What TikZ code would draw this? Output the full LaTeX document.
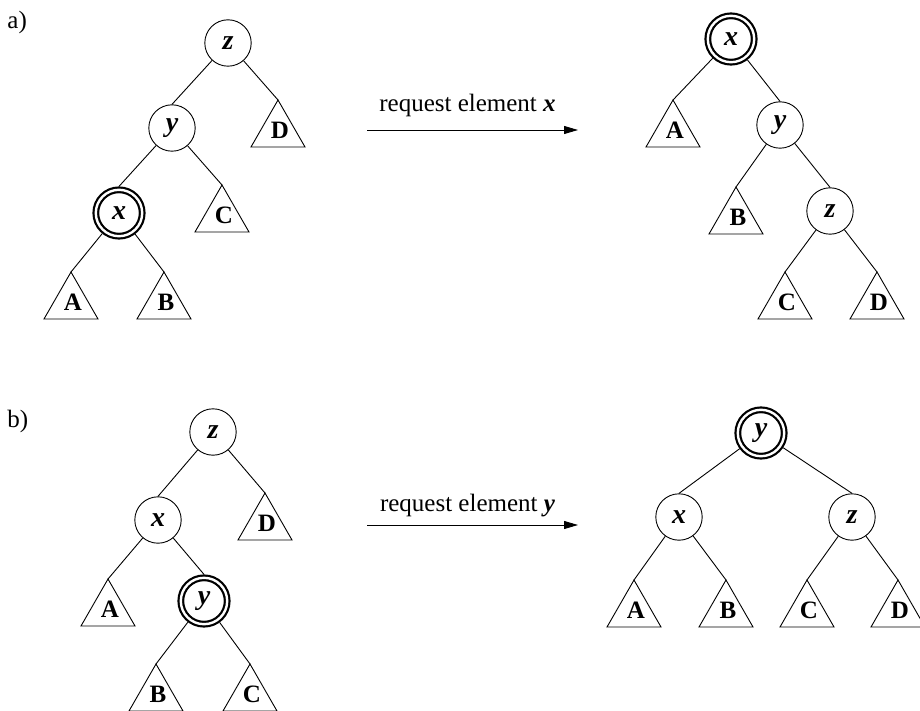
\documentclass[tikz,border=0pt]{standalone}
\usepackage{fontspec}
\setmainfont{Liberation Serif}
\usetikzlibrary{arrows.meta}
\newcommand\mysub[3]{%
  \coordinate (#1) at (#2);
  \draw[tri] (#1) -- ++(-27,47) -- ++(54,0) -- cycle;
  \node[tlab] (#1-lab) at ([shift={(2,30)}]#1) {#3};
}
\begin{document}
\begin{tikzpicture}[x=1pt,y=-1pt,line width=0.9pt,
  vtx/.style={circle, draw, fill=white, minimum size=46.4pt, inner sep=0pt, line width=0.9pt,
    font=\fontsize{28}{28}\selectfont\bfseries\itshape},
  sel/.style={vtx, double=white, double distance=2.4pt, line width=2.2pt, outer sep=3.4pt},
  tri/.style={line width=0.9pt, line join=miter},
  tlab/.style={font=\fontsize{25}{25}\selectfont\bfseries, inner sep=0pt},
  edge/.style={line width=0.9pt},
  arr/.style={-{Triangle[length=14pt,width=8pt]}, line width=0.9pt},
  lab/.style={font=\fontsize{25}{25}\selectfont, inner sep=0pt},
]
\useasboundingbox (0,0) rectangle (920,711);

% ---------- a) ----------
\node[lab, anchor=base west] (pa) at (7,29) {a)};
% left tree
\node[vtx] (az) at (228,43) {z};
\node[vtx] (ay) at (172,128) {y};
\node[sel] (ax) at (119,213) {x};
\mysub{aD}{278,100}{D}
\mysub{aC}{222,185}{C}
\mysub{aA}{71,272}{A}
\mysub{aB}{164,272}{B}
\draw[edge] (az) -- (ay.north);
\draw[edge] (az) -- (aD);
\draw[edge] (ay) -- (ax.north);
\draw[edge] (ay) -- (aC);
\draw[edge] (ax) -- (aA);
\draw[edge] (ax) -- (aB);
% arrow
\coordinate (aa1) at (367,130);
\coordinate (aa2) at (578,130);
\draw[arr] (aa1) -- (aa2);
\node[lab, anchor=base] (atext) at (467.5,112) {request element {\bfseries\itshape x}};
% right tree
\node[sel] (rx) at (731,39) {x};
\node[vtx] (ry) at (780,125) {y};
\node[vtx] (rz) at (830,211) {z};
\mysub{rA}{673,100}{A}
\mysub{rB}{736,187}{B}
\mysub{rC}{785,272}{C}
\mysub{rD}{877,272}{D}
\draw[edge] (rx) -- (rA);
\draw[edge] (rx) -- (ry.north);
\draw[edge] (ry) -- (rB);
\draw[edge] (ry) -- (rz.north);
\draw[edge] (rz) -- (rC);
\draw[edge] (rz) -- (rD);

% ---------- b) ----------
\node[lab, anchor=base west] (pb) at (7,427) {b)};
% left tree
\node[vtx] (bz) at (213,432) {z};
\node[vtx] (bx) at (158,520) {x};
\node[sel] (by) at (204,601) {y};
\mysub{bD}{265,493}{D}
\mysub{bA}{108,579}{A}
\mysub{bB}{156,664}{B}
\mysub{bC}{250,664}{C}
\draw[edge] (bz) -- (bx.north);
\draw[edge] (bz) -- (bD);
\draw[edge] (bx) -- (bA);
\draw[edge] (bx) -- (by.north);
\draw[edge] (by) -- (bB);
\draw[edge] (by) -- (bC);
% arrow
\coordinate (ba1) at (367,525);
\coordinate (ba2) at (578,525);
\draw[arr] (ba1) -- (ba2);
\node[lab, anchor=base] (btext) at (467.5,511) {request element {\bfseries\itshape y}};
% right tree
\node[sel] (sy) at (761,433) {y};
\node[vtx] (sx) at (679,517) {x};
\node[vtx] (sz) at (852,517) {z};
\mysub{sA}{634,580}{A}
\mysub{sB}{726,580}{B}
\mysub{sC}{807,580}{C}
\mysub{sD}{898,580}{D}
\draw[edge] (sy) -- (sx.north);
\draw[edge] (sy) -- (sz.north);
\draw[edge] (sx) -- (sA);
\draw[edge] (sx) -- (sB);
\draw[edge] (sz) -- (sC);
\draw[edge] (sz) -- (sD);
\end{tikzpicture}
\end{document}
